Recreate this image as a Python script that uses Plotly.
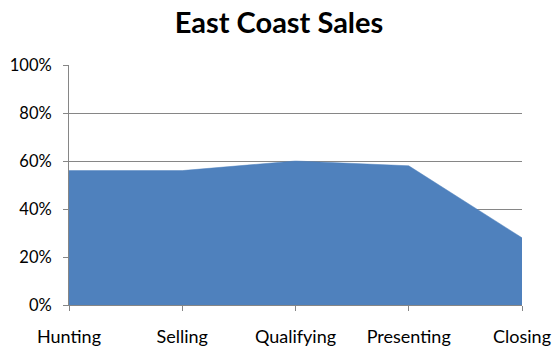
import plotly.graph_objects as go

# Sales pipeline stages and share of deals reaching each stage
stages = ["Hunting", "Selling", "Qualifying", "Presenting", "Closing"]
east_coast = [0.56, 0.56, 0.60, 0.58, 0.28]

y_ticks = [0, 0.2, 0.4, 0.6, 0.8, 1.0]
y_tick_text = ["0%", "20%", "40%", "60%", "80%", "100%"]

FONT = "Lato, 'Open Sans', Arial, sans-serif"
GRID = "#868686"
FILL = "#4F81BD"

fig = go.Figure(
    go.Scatter(
        x=stages,
        y=east_coast,
        mode="lines",
        fill="tozeroy",
        fillcolor=FILL,
        line=dict(color=FILL, width=0.5),
        hoverinfo="x+y",
    )
)

fig.update_layout(
    width=558,
    height=347,
    margin=dict(l=69, r=36, t=65, b=42, autoexpand=False),
    paper_bgcolor="white",
    plot_bgcolor="white",
    showlegend=False,
    title=dict(
        text="<b>East Coast Sales</b>",
        x=0.5,
        xanchor="center",
        y=1 - 23 / 347,
        yanchor="middle",
        font=dict(family=FONT, size=29, color="black"),
    ),
    font=dict(family=FONT, size=17, color="black"),
)

fig.update_xaxes(
    type="category",
    range=[0, len(stages) - 1],
    automargin=False,
    showgrid=False,
    showline=True,
    linecolor=GRID,
    linewidth=1,
    ticks="outside",
    ticklen=5,
    tickcolor=GRID,
    tickfont=dict(family=FONT, size=18, color="black"),
    ticklabelstandoff=10,
    fixedrange=True,
)

fig.update_yaxes(
    range=[0, 1],
    tickvals=y_ticks,
    ticktext=y_tick_text,
    automargin=False,
    showgrid=True,
    gridcolor=GRID,
    gridwidth=1,
    showline=True,
    linecolor=GRID,
    linewidth=1,
    ticks="outside",
    ticklen=5,
    tickcolor=GRID,
    zeroline=False,
    tickfont=dict(family=FONT, size=16.5, color="black"),
    ticklabelstandoff=8,
    fixedrange=True,
)

fig.write_html("out.html")
